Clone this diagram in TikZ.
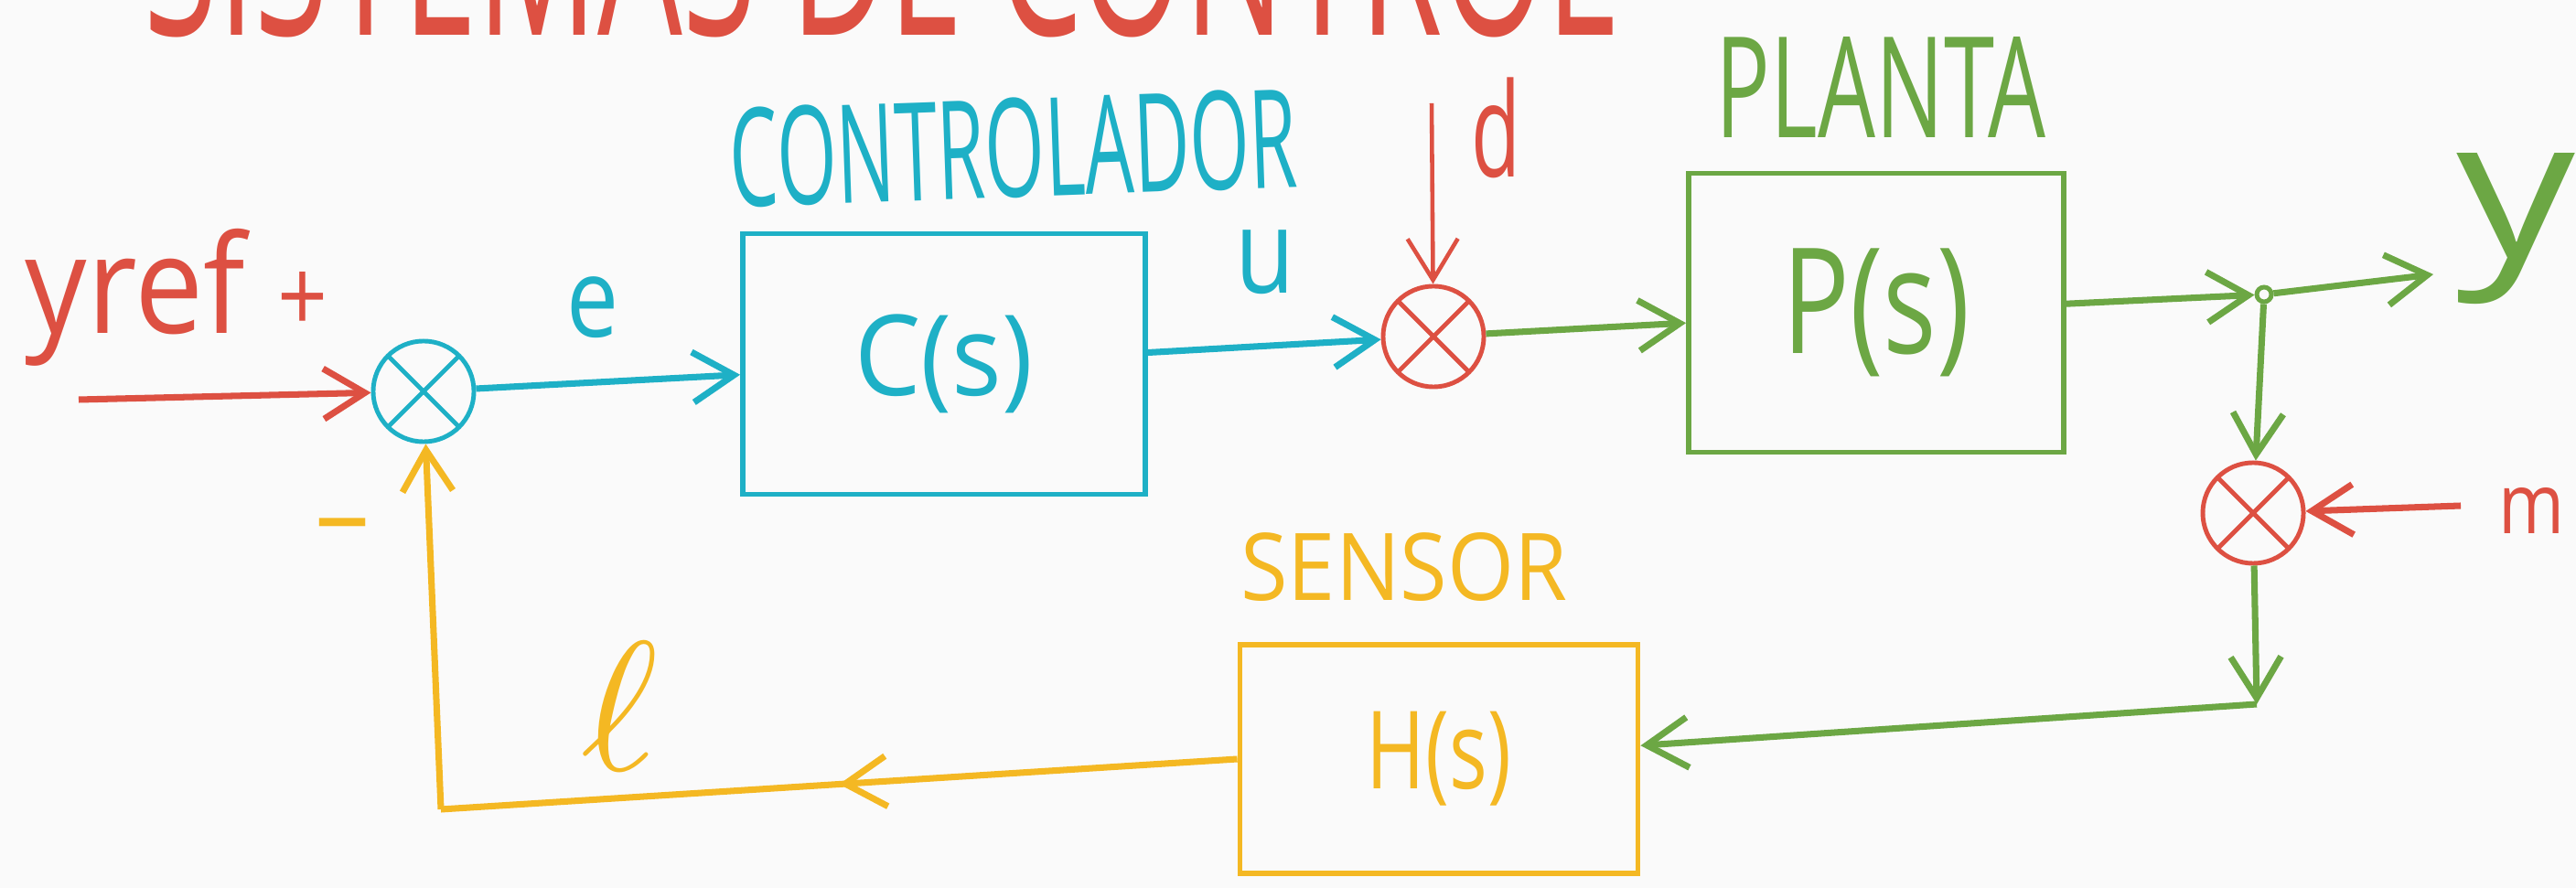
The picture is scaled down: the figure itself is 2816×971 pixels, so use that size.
\documentclass[tikz,border=0pt]{standalone}
\usepackage{fontspec}
\setmainfont{Open Sans}
\usetikzlibrary{arrows.meta}
\usetikzlibrary{decorations.markings}

\definecolor{paper}{RGB}{250,250,250}
\definecolor{penred}{RGB}{221,80,66}
\definecolor{pencyan}{RGB}{30,176,198}
\definecolor{pengreen}{RGB}{108,167,68}
\definecolor{penyellow}{RGB}{244,184,35}

% hand written label of a given width and height (cm)
\newcommand{\hand}[3]{\resizebox*{#1cm}{#2cm}{#3}}

\tikzset{
  wire/.style={line width=2pt, -{Straight Barb[length=4.5mm,width=5.5mm]}},
  midarrow/.style={line width=2pt,
    decoration={markings, mark=at position 0.5 with {\arrow{Straight Barb[length=4.5mm,width=5.5mm]}}},
    postaction={decorate}},
  block/.style={draw, line width=1.6pt, inner sep=0pt},
  tag/.style={inner sep=0pt},
  sumnode/.style={circle, draw, line width=1.4pt, minimum size=1.1cm, inner sep=0pt,
    path picture={\draw[line width=1.4pt]
      (path picture bounding box.north west) -- (path picture bounding box.south east)
      (path picture bounding box.north east) -- (path picture bounding box.south west);}},
}

\begin{document}
\begin{tikzpicture}[x=0.01cm, y=-0.01cm]
  \path[use as bounding box, fill=paper] (0,0) rectangle (2816,971);
  \clip (0,0) rectangle (2816,971);

  % title, only its lower part shows
  \node[tag, color=penred, anchor=south west] (title) at (157,42) {\hand{16.08}{1.9}{SISTEMAS DE CONTROL}};

  % summing points
  \node[sumnode, color=pencyan] (s1) at (463,428) {};
  \node[sumnode, color=penred] (s2) at (1567,368) {};
  \node[sumnode, color=penred] (s3) at (2463,561) {};

  % blocks
  \node[block, color=pencyan, minimum width=4.4cm, minimum height=2.85cm] (C) at (1032,398) {\hand{1.95}{1.08}{C(s)}};
  \node[block, color=pengreen, minimum width=4.1cm, minimum height=3.05cm] (P) at (2051,342) {\hand{2.05}{1.4}{P(s)}};
  \node[block, color=penyellow, minimum width=4.35cm, minimum height=2.5cm] (H) at (1573,830) {\hand{1.58}{1.03}{H(s)}};

  % branch point
  \node[circle, draw, color=pengreen, line width=1.4pt, minimum size=0.16cm, inner sep=0pt] (br) at (2475,322) {};

  \coordinate (in) at (86,437);
  \coordinate (dtop) at (1565,113);
  \coordinate (out) at (2660,300);
  \coordinate (mfrom) at (2690,553);
  \coordinate (crn) at (2467,770);
  \coordinate (fb) at (482,885);

  % labels
  \node[tag, color=penred] (yref) at (148,325) {\hand{2.4}{1.5}{yref}};
  \node[tag, color=penred] (plus) at (331,330) {\hand{0.55}{0.66}{+}};
  \node[tag, color=penyellow] (minus) at (375,585) {\resizebox{0.6cm}{!}{--}};
  \node[tag, color=pencyan] (elbl) at (648,336) {\hand{0.57}{0.67}{e}};
  \node[tag, color=pencyan, rotate=2] (ctrl) at (1108,162) {\hand{6.2}{1.1}{CONTROLADOR}};
  \node[tag, color=pencyan] (ulbl) at (1383,287) {\hand{0.65}{0.7}{u}};
  \node[tag, color=penred] (dlbl) at (1635,140) {\hand{0.54}{1.1}{d}};
  \node[tag, color=pengreen] (planta) at (2056,95) {\hand{3.6}{1.1}{PLANTA}};
  \node[tag, color=pengreen] (ylbl) at (2750,250) {\hand{1.3}{1.65}{y}};
  \node[tag, color=penred] (mlbl) at (2767,558) {\hand{0.72}{0.5}{m}};
  \node[tag, color=penyellow] (sensor) at (1535,620) {\hand{3.57}{0.75}{SENSOR}};
  \node[tag, color=penyellow] (llbl) at (678,772) {\resizebox{!}{1.4cm}{$\ell$}};

  % signals
  \draw[wire, color=penred] (in) -- (s1);
  \draw[wire, color=pencyan] (s1) -- (C);
  \draw[wire, color=pencyan] (C) -- (s2);
  \draw[wire, color=penred, line width=1.3pt] (dtop) -- (s2);
  \draw[wire, color=pengreen] (s2) -- (P);
  \draw[wire, color=pengreen] (P) -- (br);
  \draw[wire, color=pengreen] (br) -- (out);
  \draw[wire, color=pengreen] (br) -- (s3);
  \draw[wire, color=penred] (mfrom) -- (s3);
  \draw[wire, color=pengreen] (s3) -- (crn);
  \draw[wire, color=pengreen] (crn) -- (H);
  \draw[midarrow, color=penyellow] (H.west) -- (fb);
  \draw[wire, color=penyellow] (fb) -- (s1);
\end{tikzpicture}
\end{document}
